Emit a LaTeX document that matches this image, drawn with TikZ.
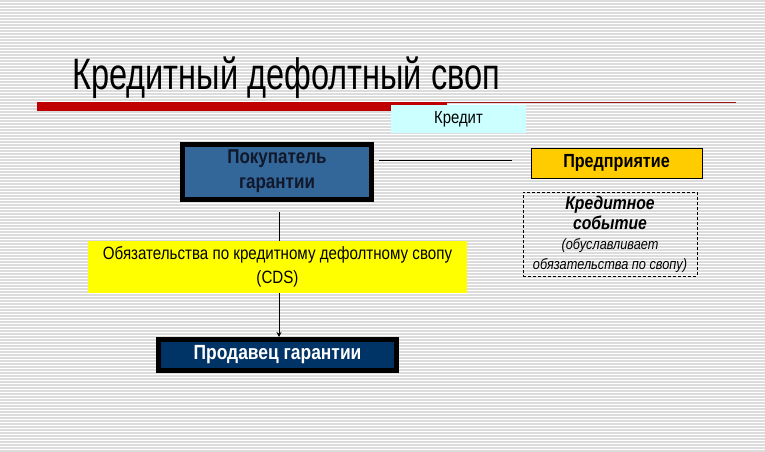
\documentclass[tikz,border=0pt]{standalone}
\usepackage{fontspec}
\setmainfont[FakeStretch=0.85]{Liberation Sans}
\newfontfamily\titlefont[FakeStretch=0.74]{Liberation Sans}
\usetikzlibrary{arrows.meta}
\pgfdeclarelayer{bg}
\pgfdeclarelayer{lines}
\pgfsetlayers{bg,lines,main}
\definecolor{stripe}{HTML}{DCDCDC}
\definecolor{redbar}{HTML}{C00000}
\definecolor{thinred}{HTML}{A01010}
\definecolor{cyanbox}{HTML}{CCFFFF}
\definecolor{buyerblue}{HTML}{336699}
\definecolor{buyertext}{HTML}{10182A}
\definecolor{goldbox}{HTML}{FFCC00}
\definecolor{yellowbox}{HTML}{FFFF00}
\definecolor{navybox}{HTML}{003366}
\begin{document}
\begin{tikzpicture}[x=1pt,y=-1pt,
  box/.style={inner sep=0pt, align=center},
  buyerbox/.style={box, draw=black, line width=5pt, fill=buyerblue, minimum width=189pt, minimum height=55pt,
    text=buyertext, font=\bfseries\fontsize{20}{25}\selectfont},
  creditbox/.style={box, fill=cyanbox, minimum width=135pt, minimum height=28pt, font=\fontsize{17.5}{20}\selectfont},
  firmbox/.style={box, draw=black, line width=1pt, fill=goldbox, minimum width=171pt, minimum height=30pt,
    font=\bfseries\fontsize{19}{22}\selectfont},
  eventbox/.style={box, draw=black, dash pattern=on 3pt off 2pt, line width=0.8pt, minimum width=174pt, minimum height=84pt,
    font=\fontsize{15}{20}\selectfont},
  cdsbox/.style={box, fill=yellowbox, minimum width=379pt, minimum height=52pt, font=\fontsize{17.8}{24}\selectfont},
  sellerbox/.style={box, draw=black, line width=5pt, fill=navybox, minimum width=238pt, minimum height=31pt,
    text=white, font=\bfseries\fontsize{20.5}{22}\selectfont},
  link/.style={draw=black, line width=0.8pt}
]
\useasboundingbox (0,0) rectangle (765,452);
\begin{pgfonlayer}{bg}
  \fill[white] (0,0) rectangle (765,452);
  \foreach \k in {0,...,150} {
    \fill[stripe] (0,{3*\k}) rectangle (765,{3*\k+2});
  }
  \fill[redbar] (37,102) rectangle (447,111);
  \fill[thinred] (447,101.5) rectangle (736,103);
\end{pgfonlayer}

\node[anchor=base west, inner sep=0pt, font=\titlefont\fontsize{44}{48}\selectfont] (title) at (72,89) {Кредитный дефолтный своп};

\node[creditbox] (credit) at (458.5,119) {Кредит};
\node[buyerbox] (buyer) at (277,171.5) {Покупатель\\гарантии};
\node[firmbox] (firm) at (616.5,163) {Предприятие};
\node[eventbox] (event) at (610,234) {{\bfseries\itshape\fontsize{18.5}{20}\selectfont Кредитное}\\{\bfseries\itshape\fontsize{18.5}{20}\selectfont событие}\\\textit{(обуславливает}\\\textit{обязательства по свопу)}};
\node[cdsbox] (cds) at (277.5,267) {Обязательства по кредитному дефолтному свопу\\(CDS)};
\node[sellerbox] (seller) at (277.5,355) {Продавец гарантии};

\coordinate (hstart) at (379,160);
\coordinate (hend) at (512,160);
\coordinate (vstart) at (279,212);
\coordinate (vend) at (279,337);
\draw[link] (hstart) -- (hend);
\begin{pgfonlayer}{lines}
  \draw[link, -{Stealth[length=5pt,width=5pt]}] (vstart) -- (vend);
\end{pgfonlayer}
\end{tikzpicture}
\end{document}
